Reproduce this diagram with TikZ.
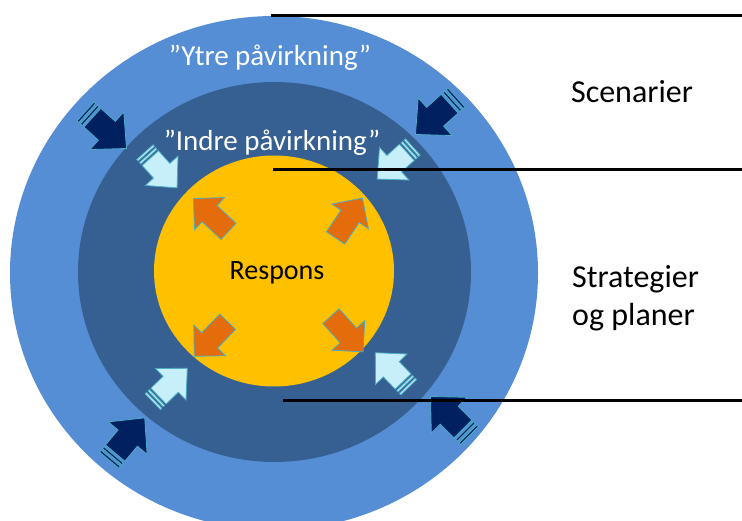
\documentclass[tikz,border=0pt]{standalone}
\usepackage{fontspec}
\setmainfont{Carlito}
\usepackage{tikz}

\definecolor{ytreblaa}{HTML}{558ED5}
\definecolor{indreblaa}{HTML}{376092}
\definecolor{responsgul}{HTML}{FFC000}
\definecolor{marine}{HTML}{002060}
\definecolor{lysblaa}{HTML}{C6EFFA}
\definecolor{oransje}{HTML}{E46C0A}
\definecolor{kant}{HTML}{4BACC6}

\begin{document}
\begin{tikzpicture}[x=1pt, y=1pt,
    tekst/.style={font=\fontsize{29}{38}\selectfont, inner sep=0},
    stor/.style={font=\fontsize{32}{38}\selectfont},
    rim/.style={draw=kant, line width=0.8pt, line join=miter},
    skille/.style={line width=3pt},
    stripearrow/.pic={
        \path [rim, pic actions] (-24,-11) rectangle (-22,11);
        \path [rim, pic actions] (-20,-11) rectangle (-18,11);
        \path [rim, pic actions] (-16,-11) -- (1,-11) -- (1,-22) -- (24,0)
            -- (1,22) -- (1,11) -- (-16,11) -- cycle;
    },
    plainarrow/.pic={
        \path [rim, pic actions] (-24,-11) -- (2,-11) -- (2,-22) -- (24,0)
            -- (2,22) -- (2,11) -- (-24,11) -- cycle;
    }]
                \clip (0,0) rectangle (742,520);
                \fill [white] (0,0) rectangle (742,520);

                \fill [ytreblaa] (274,247) ellipse [x radius=264, y radius=257];
                \fill [indreblaa] (274.5,248) ellipse [x radius=196.5, y radius=190];
                \fill [responsgul] (274,249) ellipse [x radius=120, y radius=115.5];

                % ytre piler
                \pic [fill=marine, scale=1.15, rotate=-42] at (106,390) {stripearrow};
                \pic [fill=marine, scale=1.15, rotate=222] at (436,404) {stripearrow};
                \pic [fill=marine, scale=1.15, rotate=50]  at (127,81)  {stripearrow};
                \pic [fill=marine, scale=1.15, rotate=135] at (450,104) {stripearrow};

                % indre piler
                \pic [fill=lysblaa, rotate=-48] at (161,350) {stripearrow};
                \pic [fill=lysblaa, rotate=222] at (395,357) {stripearrow};
                \pic [fill=lysblaa, rotate=44]  at (170,135) {stripearrow};
                \pic [fill=lysblaa, rotate=134] at (392,150) {stripearrow};

                % respons
                \pic [fill=oransje, rotate=137] at (211,305) {plainarrow};
                \pic [fill=oransje, rotate=56]  at (349,302) {plainarrow};
                \pic [fill=oransje, rotate=226] at (211,181) {plainarrow};
                \pic [fill=oransje, rotate=-48] at (347,186) {plainarrow};

                \node (ytre) [tekst, text=white] at (270,462) {”Ytre påvirkning”};
                \node (indre) [tekst, text=white] at (272,377) {”Indre påvirkning”};
                \node (respons) [tekst, font=\fontsize{28}{34}\selectfont] at (277,247) {Respons};
                \node (scenarier) [tekst, stor] at (632,428) {Scenarier};
                \node (strategier) [tekst, stor, anchor=west, align=left] at (572,222) {Strategier\\og planer};

                \coordinate (top) at (271,504);
                \coordinate (midt) at (273,350);
                \coordinate (bunn) at (283,120);
                \draw [skille] (top) -- (top -| 742,0);
                \draw [skille] (midt) -- (midt -| 742,0);
                \draw [skille] (bunn) -- (bunn -| 742,0);
            \end{tikzpicture}
\end{document}
